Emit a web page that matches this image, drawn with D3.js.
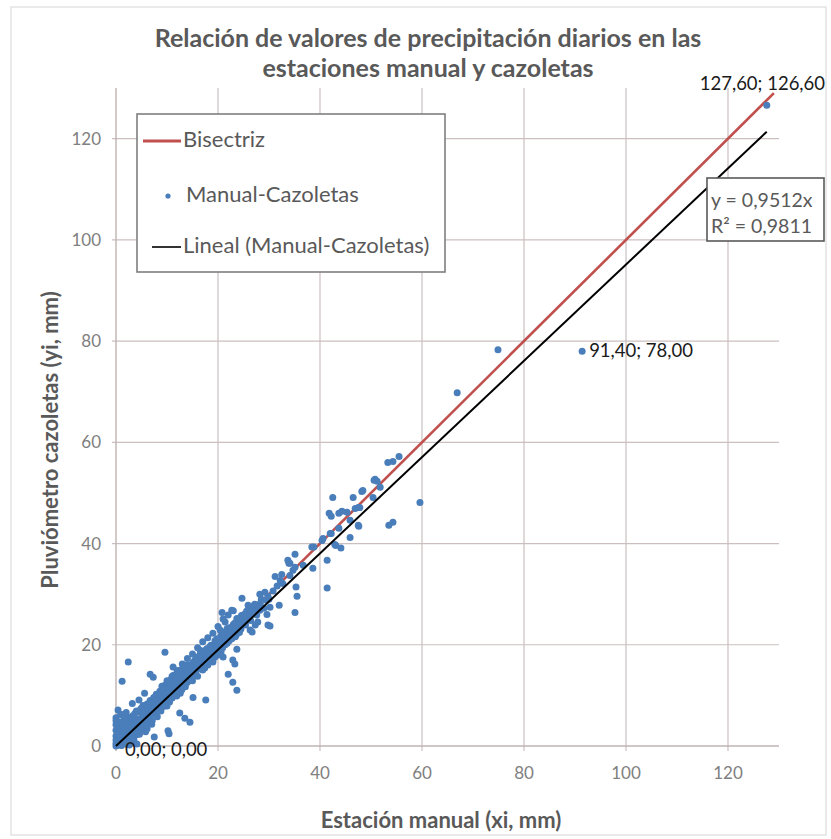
<!DOCTYPE html>
<html>
<head>
<meta charset="utf-8">
<script src="https://cdn.jsdelivr.net/npm/d3@7"></script>
<style>
  body { margin: 0; background: #fff; }
  svg { display: block; font-family: Lato, "Open Sans", sans-serif; }
</style>
</head>
<body>
<svg id="chart"></svg>
<script>
// datos (xi = estacion manual, yi = cazoletas), mm
const puntosBajos = [
  [0,0],[0,0.5],[0,1.2],[0,2.0],[0,3.1],[0,4.2],[0,5.6],[0.2,0.1],[0.3,1.0],[0.4,2.5],
  [0.5,0.3],[0.5,4.8],[0.6,1.6],[0.7,3.3],[0.8,0.8],[0.9,6.2],[1.0,0.2],[1.0,1.3],[1.1,2.2],[1.2,3.8],
  [1.3,0.9],[1.4,1.7],[1.5,5.1],[1.6,2.6],[1.7,0.6],[1.8,1.9],[1.9,3.0],[2.0,1.1],[2.0,2.4],[2.1,4.4],
  [2.2,0.3],[2.3,2.9],[2.4,1.6],[2.5,3.6],[2.6,2.1],[2.7,5.4],[2.8,2.7],[2.9,0.8],[3.0,3.2],[3.0,4.1],
  [3.1,1.9],[3.2,2.6],[3.3,6.0],[3.4,3.5],[3.5,1.3],[3.6,4.6],[3.7,2.9],[3.8,3.9],[3.9,5.2],[4.0,3.1],
  [4.1,0.4],[4.2,4.4],[4.3,3.6],[4.4,6.8],[4.5,4.0],[4.6,2.3],[4.7,5.0],[4.8,4.3],[4.9,7.4],[5.0,5.5],
  [0.4,7.1],[1.4,6.2],[0,5.0],[2.2,5.6],[0.1,0.9],[1.1,0.1],[2.6,0.2],[3.6,0.6],[0.6,3.9],[1.9,4.8],
  [5.1,4.6],[5.2,3.2],[5.3,6.1],[5.4,5.2],[5.5,7.0],[5.6,4.9],[5.7,5.8],[5.8,2.8],[5.9,6.6],[6.0,5.4],
  [6.1,8.3],[6.2,6.0],[6.3,4.5],[6.4,7.2],[6.5,6.4],[6.6,5.1],[6.7,9.0],[6.8,6.9],[6.9,7.7],[7.0,6.2],
  [7.1,5.0],[7.2,8.1],[7.3,7.0],[7.4,9.6],[7.5,7.4],[7.6,6.3],[7.7,8.6],[7.8,7.9],[7.9,10.2],[8.0,7.3],
  [8.1,5.8],[8.2,8.8],[8.3,8.1],[8.4,9.5],[8.5,7.6],[8.6,10.8],[8.7,8.4],[8.8,6.9],[8.9,9.2],[9.0,8.6],
  [9.1,11.3],[9.2,9.0],[9.3,7.8],[9.4,10.1],[9.5,9.3],[9.6,12.0],[9.7,8.8],[9.8,10.6],[9.9,9.6],[10.0,7.9],
  [2.4,16.6],[1.2,12.8],[6.7,14.2],[7.3,13.6],[9.6,18.5],[11.2,15.6],[7.5,1.8],[10.2,3.0],[10.4,2.4],
  [12.5,6.5],[13.5,5.5],[14.5,4.7],[3.2,8.4],[4.5,9.1],[5.6,10.4],[6.1,3.4]
];

// relleno de la banda densa (0-25 mm)
const puntosBanda = [
  [0.3,3.6],[0.8,2.0],[1.2,4.6],[1.6,3.4],[2.0,6.6],[2.4,4.0],[2.9,3.8],[3.3,4.9],[3.7,6.4],[4.0,2.2],
  [4.4,5.3],[4.9,3.4],[5.3,8.0],[5.7,3.9],[6.2,7.1],[6.6,8.2],[7.0,4.3],[7.4,6.8],[7.8,9.0],[8.2,7.0],
  [8.6,9.8],[9.0,10.3],[9.4,8.4],[9.8,11.6],[10.2,9.0],[10.6,12.0],[11.0,10.9],[11.4,13.0],[11.8,12.0],[12.2,13.4],
  [12.6,10.4],[13.0,14.6],[13.4,13.0],[13.8,12.5],[14.2,15.3],[14.6,14.0],[15.0,16.4],[15.4,14.1],[15.8,17.2],[16.2,15.2],
  [16.6,18.1],[17.0,16.4],[17.4,15.4],[17.8,19.2],[18.2,17.1],[18.6,19.9],[19.0,18.6],[19.4,17.6],[19.8,21.2],[20.2,19.2],
  [20.6,18.6],[21.0,22.4],[21.4,20.0],[21.8,23.2],[22.2,20.8],[22.6,22.6],[23.0,24.0],[23.4,21.6],[23.8,24.8],[24.2,22.4],
  [24.6,25.8],[25.0,24.2],[25.6,26.6],[26.2,25.6],[26.9,27.6],[27.5,26.8],[28.3,28.2],[29.2,30.4],[30.0,29.0],[30.8,30.6],
  [1.0,2.8],[1.5,1.0],[2.5,2.6],[3.5,2.4],[4.5,4.8],[5.5,5.6],[6.5,5.8],[7.5,8.2],[8.5,8.8],[9.5,10.8],
  [10.5,10.2],[11.5,11.9],[12.5,12.3],[13.5,14.2],[14.5,13.6],[15.5,15.6],[16.5,16.3],[17.5,17.1],[18.5,18.2],[19.5,19.1],
  [20.5,20.0],[21.5,21.4],[22.5,21.8],[23.5,23.1],[24.5,24.1],[25.5,25.0],[5.0,6.4],[6.0,7.6],[7.0,8.8],[8.0,10.0],
  [9.0,11.8],[10.0,12.9],[11.0,13.8],[12.0,14.9],[13.0,16.2],[14.0,17.3],[15.0,18.2],[16.0,19.4],[17.0,20.6],[18.0,21.4],
  [19.0,22.3],[20.0,23.6],[21.0,25.1],[22.0,25.9],[23.0,26.7],[3.0,5.7],[4.0,6.9],[2.0,3.5],[0.5,2.9],[1.7,5.7]
];

const puntosMedios = [
  [10.1,10.4],[10.2,12.6],[10.3,9.8],[10.4,11.2],[10.5,8.7],[10.6,10.9],[10.7,13.1],[10.8,10.2],[10.9,11.8],[11.0,9.5],
  [11.1,12.3],[11.2,10.8],[11.3,14.0],[11.4,11.5],[11.5,10.1],[11.6,12.8],[11.7,11.0],[11.8,13.5],[11.9,9.9],[12.0,12.2],
  [12.1,11.4],[12.2,14.4],[12.3,12.7],[12.4,10.7],[12.5,13.2],[12.6,11.9],[12.7,15.0],[12.8,12.5],[12.9,11.1],[13.0,13.7],
  [13.1,12.9],[13.2,15.5],[13.3,12.0],[13.4,14.1],[13.5,13.2],[13.6,11.7],[13.7,14.8],[13.8,13.5],[13.9,16.0],[14.0,12.6],
  [14.2,14.3],[14.4,13.1],[14.6,15.6],[14.8,14.2],[15.0,12.9],[15.2,15.1],[15.4,16.8],[15.6,14.6],[15.8,15.9],[16.0,13.8],
  [16.2,16.4],[16.4,17.9],[16.6,15.7],[16.8,16.9],[17.0,15.0],[17.2,17.6],[17.4,18.8],[17.6,16.5],[17.8,17.8],[18.0,16.0],
  [18.2,18.4],[18.4,19.6],[18.6,17.3],[18.8,18.7],[19.0,17.0],[19.2,19.5],[19.4,20.8],[19.6,18.2],[19.8,19.6],[20.0,18.0],
  [20.3,20.6],[20.6,21.8],[20.9,19.4],[21.2,21.0],[21.5,22.6],[21.8,20.3],[22.1,21.9],[22.4,23.4],[22.7,21.2],[23.0,22.8],
  [23.3,24.3],[23.6,22.0],[23.9,23.7],[24.2,25.2],[24.5,23.1],[24.8,24.6],[25.1,26.0],[25.4,23.9],[25.7,25.5],[26.0,27.0],
  [26.4,24.8],[26.8,26.5],[27.2,28.0],[27.6,25.9],[28.0,27.4],[28.5,29.0],[29.0,27.2],[29.5,28.8],
  [17.6,9.1],[15.1,9.6],[23.7,11.0],[22.0,14.2],[22.9,12.6],[23.3,16.2],[16.5,18.9],[18.5,18.5],
  [16.1,17.6],[15.5,17.0],[19.0,16.6],[17.8,17.9],[21.0,17.6],[22.9,17.0],[19.8,20.5],[23.7,19.1],
  [20.4,22.9],[22.4,22.3],[21.4,24.5],[24.9,24.3],[23.7,25.2],[25.7,25.2],[26.3,22.9],[26.7,22.5],
  [27.3,23.9],[27.8,24.5],[29.8,23.9],[20.8,26.4],[22.7,26.8],[24.7,29.2],[25.9,27.8],[28.2,26.8],
  [29.6,26.0],[28.2,30.0],[29.8,29.6],[30.2,27.4],[32.0,27.8],[30.2,23.7],[35.1,26.4],[35.5,29.6],
  [35.3,31.4],[31.6,31.6],[32.7,32.1],[32.2,32.7],[31.2,33.5],[32.5,33.9],[34.1,33.7],[35.1,35.3],
  [33.9,36.1],[34.7,34.7],[36.7,35.7],[38.6,35.1],[41.4,31.2]
];

const puntosAltos = [
  [33.7,36.7],[34.1,36.1],[35.1,37.9],[38.8,39.3],[38.4,39.3],[40.4,40.6],[40.6,41.0],[41.4,36.7],
  [43.1,39.6],[44.1,39.1],[42.9,39.8],[42.0,42.0],[42.2,42.0],[43.7,43.0],[45.9,41.2],[47.5,43.6],
  [47.6,43.4],[53.5,43.6],[54.3,44.2],[45.9,44.6],[41.8,46.0],[42.2,45.4],[43.7,46.0],[44.3,46.4],
  [45.3,46.2],[46.9,46.9],[47.5,47.1],[47.8,47.1],[42.5,49.1],[46.5,49.1],[50.4,49.1],[48.2,50.3],
  [48.4,50.5],[51.8,51.1],[51.2,52.3],[50.8,52.7],[50.6,52.5],[53.3,56.0],[54.3,56.2],[55.5,57.2],
  [59.6,48.1],[66.9,69.8],[74.9,78.3],[91.4,78.0],[127.6,126.6]
];

const xTicks = [0, 20, 40, 60, 80, 100, 120];
const yTicks = [0, 20, 40, 60, 80, 100, 120];
const pendiente = 0.9512;
const bisectriz = [[0, 0], [129, 129]];
const tendencia = [[0, 0], [127.6, 127.6 * pendiente]];
const etiquetas = [
  { p: [0, 0], text: "0,00; 0,00", dx: 9, dy: 5 },
  { p: [91.4, 78.0], text: "91,40; 78,00", dx: 7, dy: 1 },
  { p: [127.6, 126.6], text: "127,60; 126,60", dx: -67, dy: -20 }
];

const W = 831, H = 839;
const svg = d3.select("#chart").attr("width", W).attr("height", H);

svg.append("rect").attr("x", 11).attr("y", 7).attr("width", 815).attr("height", 828)
  .attr("fill", "#fff").attr("stroke", "#dcdcdc").attr("stroke-width", 1.2);

const x = d3.scaleLinear().domain([0, 130]).range([116, 779]);
const y = d3.scaleLinear().domain([0, 130]).range([746, 88]);

const gridColor = "#cbbfbf";

// rejilla
svg.append("g").selectAll("line").data(xTicks.slice(1)).join("line")
  .attr("x1", d => x(d)).attr("x2", d => x(d))
  .attr("y1", y(130)).attr("y2", y(0) + 5)
  .attr("stroke", gridColor).attr("stroke-width", 1.2);
svg.append("g").selectAll("line").data(yTicks.slice(1)).join("line")
  .attr("x1", x(0) - 4).attr("x2", x(130))
  .attr("y1", d => y(d)).attr("y2", d => y(d))
  .attr("stroke", gridColor).attr("stroke-width", 1.2);

// ejes
svg.append("line").attr("x1", x(0)).attr("x2", x(130)).attr("y1", y(0)).attr("y2", y(0))
  .attr("stroke", "#bfb3b3").attr("stroke-width", 1.4);
svg.append("line").attr("x1", x(0)).attr("x2", x(0)).attr("y1", y(0) + 5).attr("y2", y(130))
  .attr("stroke", "#bfb3b3").attr("stroke-width", 1.4);

const tickStyle = s => s.attr("fill", "#808080").style("font-size", "17px");
svg.append("g").selectAll("text").data(xTicks).join("text")
  .attr("x", d => x(d)).attr("y", 779).attr("text-anchor", "middle")
  .call(tickStyle).text(d => d);
svg.append("g").selectAll("text").data(yTicks).join("text")
  .attr("x", 101).attr("y", d => y(d) + 6).attr("text-anchor", "end")
  .call(tickStyle).text(d => d);

const line = d3.line().x(d => x(d[0])).y(d => y(d[1]));

svg.append("path").datum(bisectriz).attr("d", line)
  .attr("stroke", "#c0504d").attr("stroke-width", 2.6).attr("fill", "none");

const puntos = puntosBajos.concat(puntosBanda, puntosMedios, puntosAltos);
svg.append("g").selectAll("circle").data(puntos).join("circle")
  .attr("cx", d => x(d[0])).attr("cy", d => y(d[1]))
  .attr("r", 3.5).attr("fill", "#4a7ebb");

svg.append("path").datum(tendencia).attr("d", line)
  .attr("stroke", "#000").attr("stroke-width", 2).attr("fill", "none");

// etiquetas de datos
svg.append("g").selectAll("text").data(etiquetas).join("text")
  .attr("x", d => x(d.p[0]) + d.dx).attr("y", d => y(d.p[1]) + d.dy)
  .attr("dominant-baseline", "middle")
  .attr("fill", "#1a1a1a").style("font-size", "18.5px").text(d => d.text);

// ecuacion
const eq = svg.append("g");
eq.append("rect").attr("x", 707).attr("y", 178).attr("width", 117).attr("height", 63)
  .attr("fill", "#fff").attr("stroke", "#595959").attr("stroke-width", 1.6);
eq.append("text").attr("x", 711).attr("y", 207).attr("fill", "#595959")
  .style("font-size", "19.5px").text("y = 0,9512x");
eq.append("text").attr("x", 711).attr("y", 233).attr("fill", "#595959")
  .style("font-size", "19.5px").text("R² = 0,9811");

// leyenda
const lg = svg.append("g");
lg.append("rect").attr("x", 137).attr("y", 114).attr("width", 308).attr("height", 158)
  .attr("fill", "#fff").attr("stroke", "#7f7f7f").attr("stroke-width", 1.6);
lg.append("line").attr("x1", 143).attr("x2", 181).attr("y1", 141).attr("y2", 141)
  .attr("stroke", "#c0504d").attr("stroke-width", 3);
lg.append("circle").attr("cx", 168).attr("cy", 196).attr("r", 2.6).attr("fill", "#4a7ebb");
lg.append("line").attr("x1", 152).attr("x2", 181).attr("y1", 247).attr("y2", 247)
  .attr("stroke", "#000").attr("stroke-width", 1.6);
const lgText = [["Bisectriz", 183, 141], ["Manual-Cazoletas", 186, 196], ["Lineal (Manual-Cazoletas)", 183, 247]];
lg.selectAll("text.lt").data(lgText).join("text").attr("class", "lt")
  .attr("x", d => d[1]).attr("y", d => d[2]).attr("dominant-baseline", "middle")
  .attr("fill", "#595959").style("font-size", "22px").text(d => d[0]);

// titulos
const title = ["Relación de valores de precipitación diarios en las", "estaciones manual y cazoletas"];
svg.append("g").selectAll("text").data(title).join("text")
  .attr("x", 428).attr("y", (d, i) => 47 + i * 30).attr("text-anchor", "middle")
  .attr("fill", "#595959").style("font-size", "25px").style("font-weight", "bold").text(d => d);

svg.append("text").attr("x", 441).attr("y", 828).attr("text-anchor", "middle")
  .attr("fill", "#595959").style("font-size", "22px").style("font-weight", "bold")
  .text("Estación manual (xi, mm)");
svg.append("text").attr("transform", "translate(58,440) rotate(-90)").attr("text-anchor", "middle")
  .attr("fill", "#595959").style("font-size", "22px").style("font-weight", "bold")
  .text("Pluviómetro cazoletas (yi, mm)");
</script>
</body>
</html>
